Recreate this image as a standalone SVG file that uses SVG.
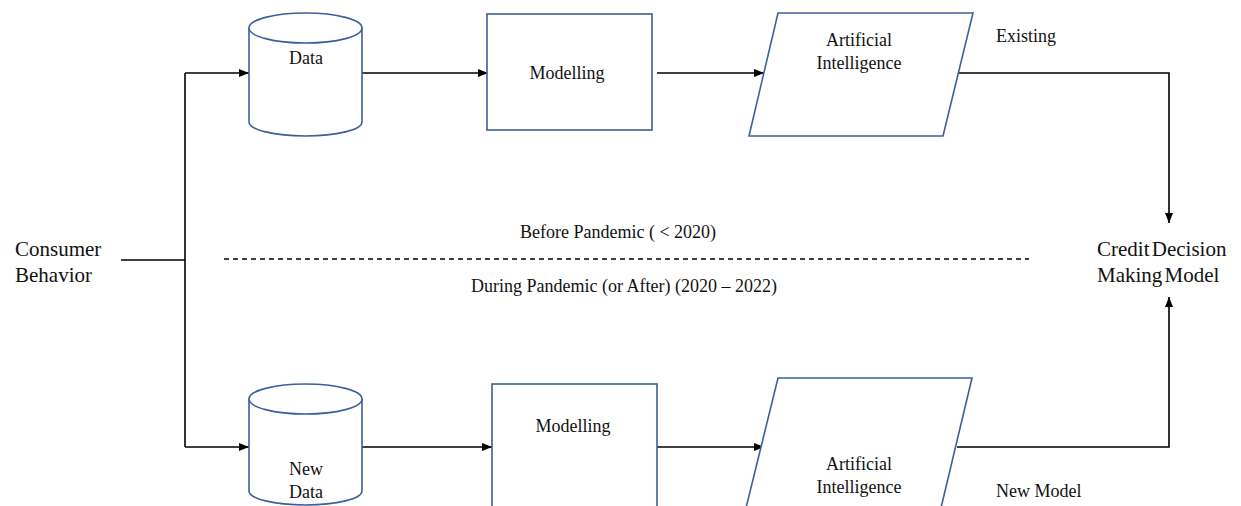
<svg xmlns="http://www.w3.org/2000/svg" width="1241" height="506" viewBox="0 0 1241 506">
<defs>
<marker id="ah" markerWidth="10" markerHeight="8" refX="10" refY="4" orient="auto" markerUnits="userSpaceOnUse">
<path d="M0,0 L10,4 L0,8 Z" fill="#000"/>
</marker>
<style>
.shape{fill:#fff;stroke:#3C5F9E;stroke-width:1.6}
.conn{fill:none;stroke:#000;stroke-width:1.6}
.t{font-family:"Liberation Serif","Times New Roman",serif;font-size:18px;fill:#111}
.tl{font-family:"Liberation Serif","Times New Roman",serif;font-size:21px;fill:#111}
</style>
</defs>
<rect width="1241" height="506" fill="#fff"/>
<g id="connectors">
<path class="conn" d="M121,260 H185" stroke-width="2.2"/>
<path class="conn" d="M185,73 V447"/>
<path class="conn" d="M185,73 H249" marker-end="url(#ah)"/>
<path class="conn" d="M185,447 H249" marker-end="url(#ah)"/>
<path class="conn" d="M362,73 H488" marker-end="url(#ah)"/>
<path class="conn" d="M657,73 H764" marker-end="url(#ah)"/>
<path class="conn" d="M959,73 H1169 V223" marker-end="url(#ah)"/>
<path class="conn" d="M362,447 H492" marker-end="url(#ah)"/>
<path class="conn" d="M657,447 H764" marker-end="url(#ah)"/>
<path class="conn" d="M957,447 H1169 V297" marker-end="url(#ah)"/>
<path class="conn" d="M224,259 H1029" stroke-width="1.3" stroke-dasharray="5,4"/>
</g>
<g id="data">
<path class="shape" d="M249,28 V122 A56.5,14 0 0 0 362,122 V28"/>
<ellipse class="shape" cx="305.5" cy="28" rx="56.5" ry="15"/>
<text class="t" x="306" y="64" text-anchor="middle">Data</text>
</g>
<g id="modelling">
<rect class="shape" x="487" y="14" width="165" height="116"/>
<text class="t" x="567" y="79" text-anchor="middle">Modelling</text>
</g>
<g id="ai">
<path class="shape" d="M778,13 H973 L943,136 H749 Z"/>
<text class="t" x="859" y="46" text-anchor="middle">Artificial</text>
<text class="t" x="859" y="69" text-anchor="middle">Intelligence</text>
</g>
<g id="existing-label">
<text class="t" x="996" y="42">Existing</text>
</g>
<g id="consumer">
<text class="tl" x="15" y="256">Consumer</text>
<text class="tl" x="15" y="282">Behavior</text>
</g>
<g id="credit">
<text class="tl" x="1097" y="256" word-spacing="-3">Credit Decision</text>
<text class="tl" x="1097" y="282" word-spacing="-3">Making Model</text>
</g>
<g id="period-labels">
<text class="t" x="618" y="238" text-anchor="middle">Before Pandemic ( &lt; 2020)</text>
<text class="t" x="624" y="292" text-anchor="middle">During Pandemic (or After) (2020 – 2022)</text>
</g>
<g id="new-data">
<path class="shape" d="M249,399 V491 A56.5,14 0 0 0 362,491 V399"/>
<ellipse class="shape" cx="305.5" cy="399" rx="56.5" ry="15"/>
<text class="t" x="306" y="475" text-anchor="middle">New</text>
<text class="t" x="306" y="498" text-anchor="middle">Data</text>
</g>
<g id="modelling-new">
<rect class="shape" x="492" y="384" width="165" height="140"/>
<text class="t" x="573" y="432" text-anchor="middle">Modelling</text>
</g>
<g id="ai-new">
<path class="shape" d="M778,378 H972 L940,512 H745 Z"/>
<text class="t" x="859" y="470" text-anchor="middle">Artificial</text>
<text class="t" x="859" y="493" text-anchor="middle">Intelligence</text>
</g>
<g id="new-model-label">
<text class="t" x="996" y="497">New Model</text>
</g>
</svg>
